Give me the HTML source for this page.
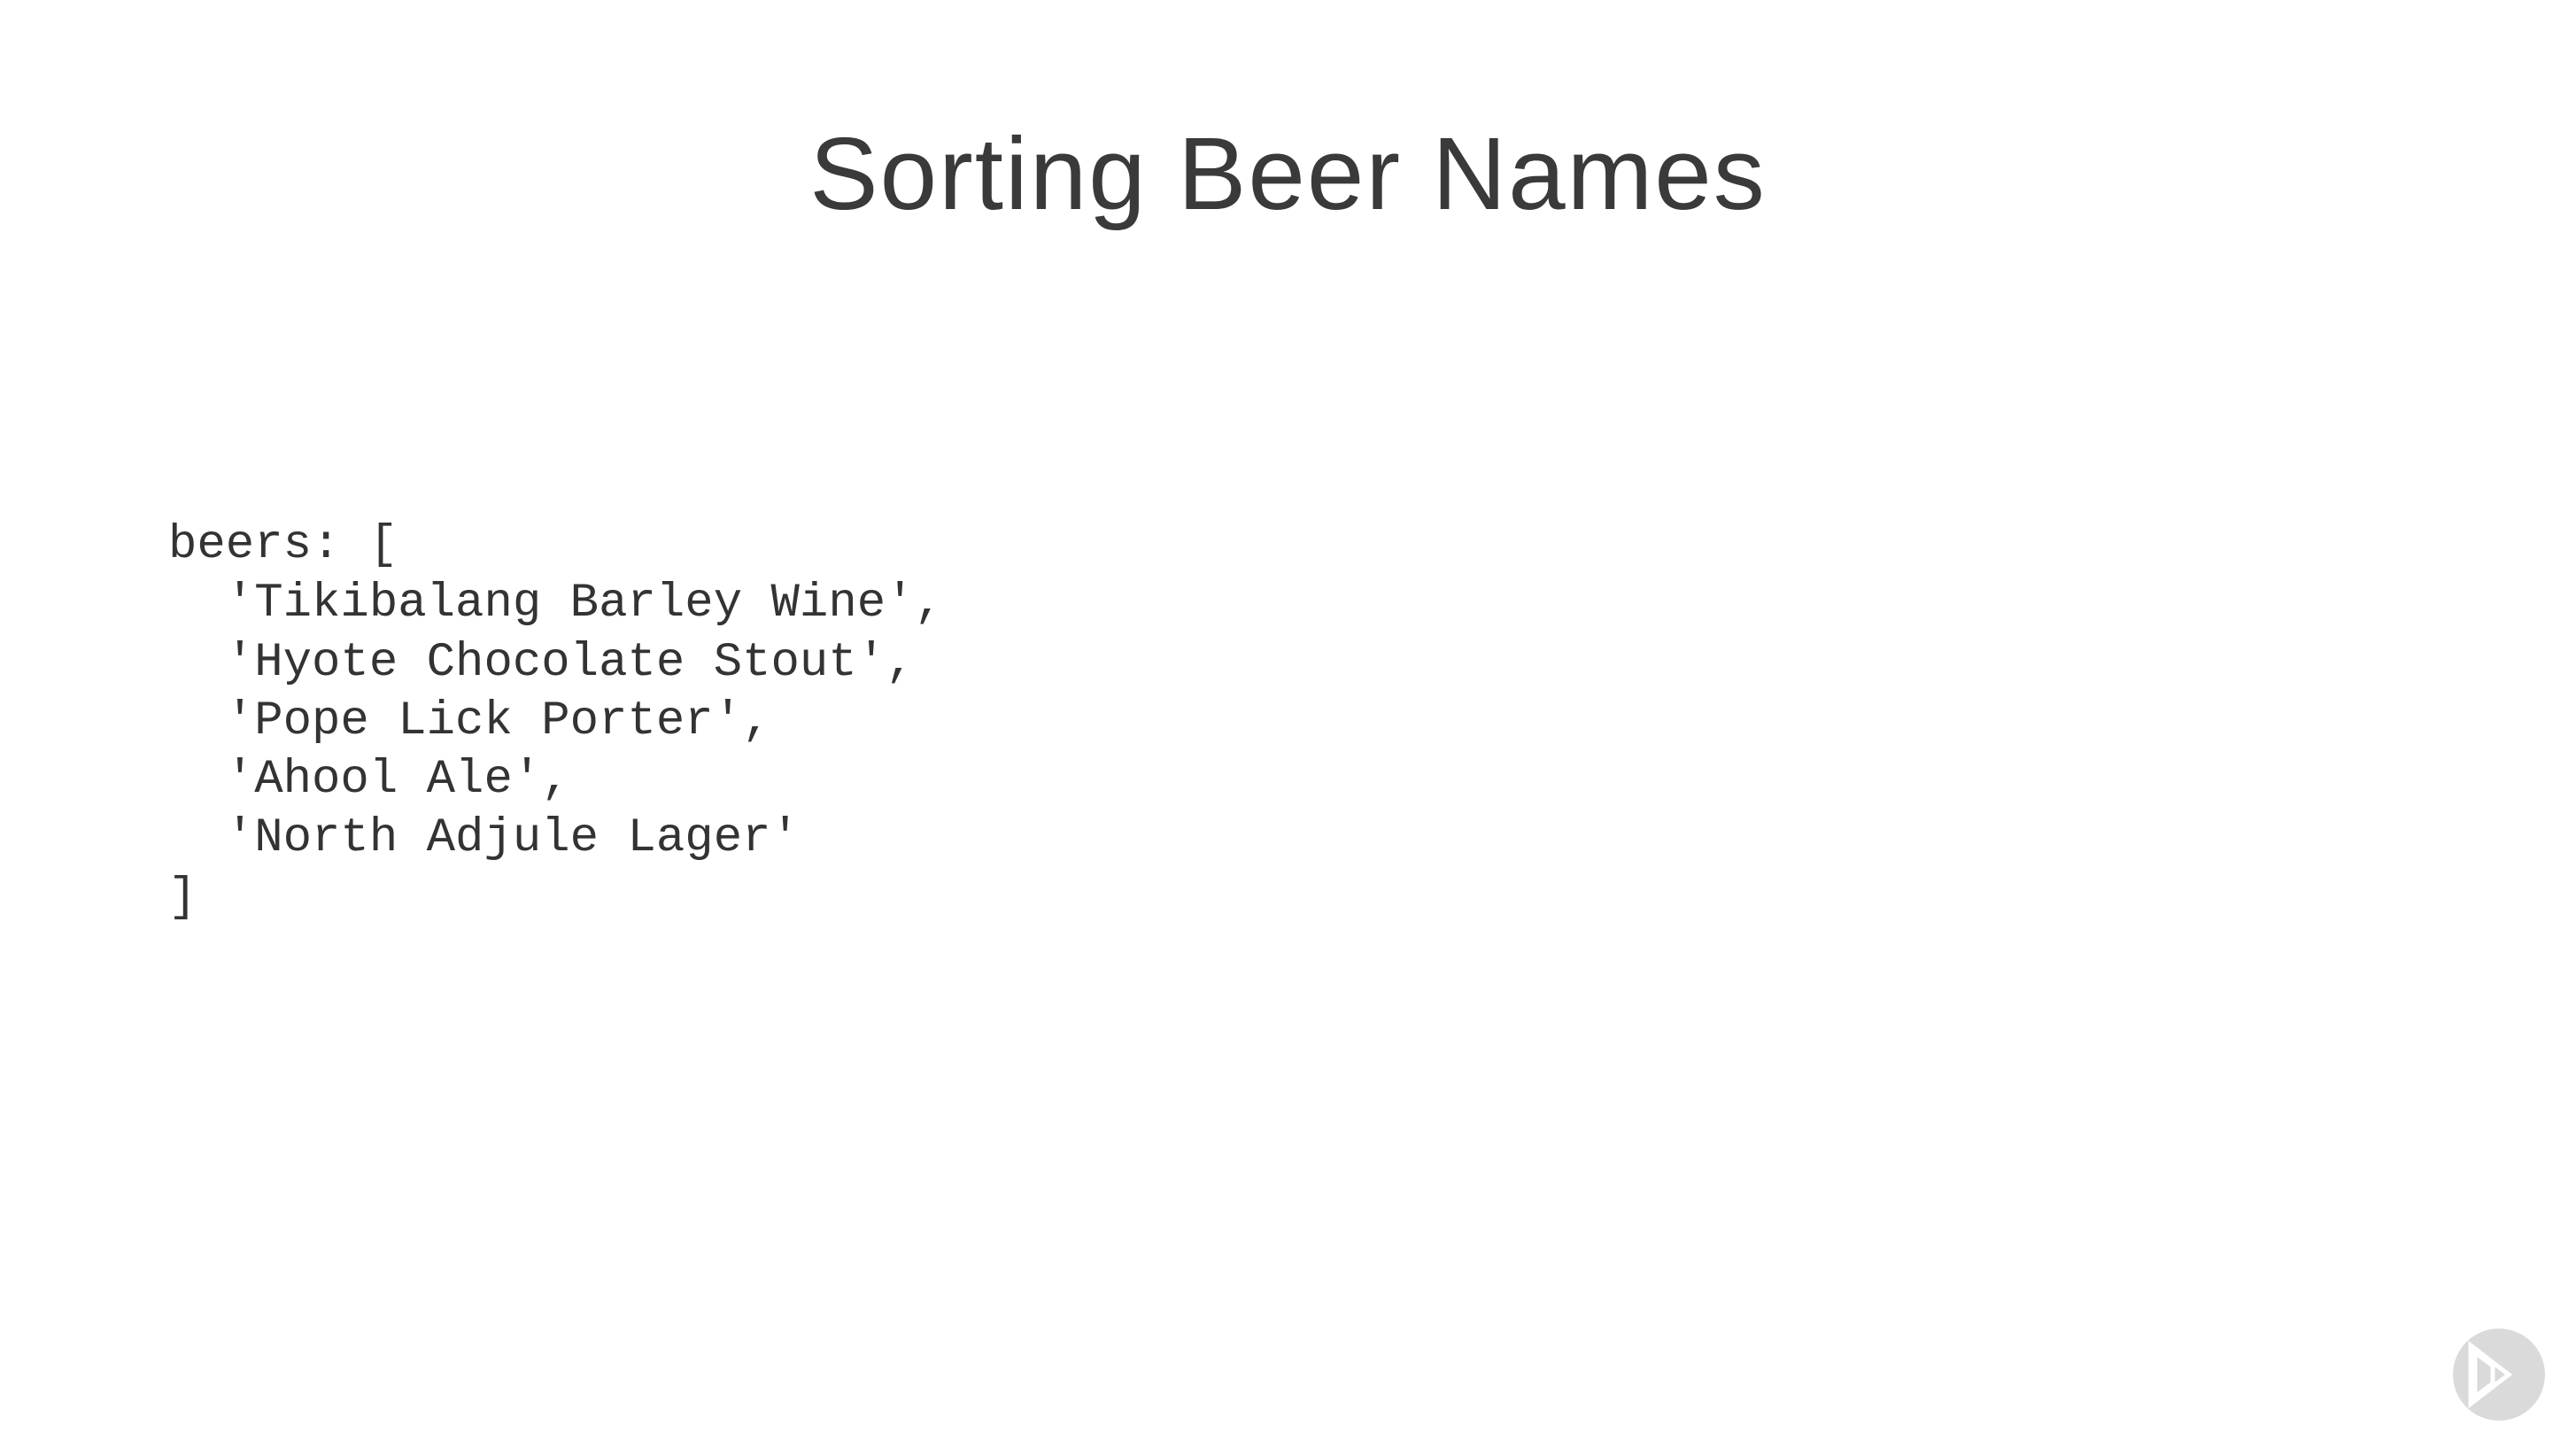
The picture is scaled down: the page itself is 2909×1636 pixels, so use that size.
<!DOCTYPE html>
<html><head><meta charset="utf-8"><style>
html,body{margin:0;padding:0;background:#fff;}
body{width:2909px;height:1636px;position:relative;overflow:hidden;}
.title{position:absolute;left:0;width:2909px;top:126px;text-align:center;font-family:"Liberation Sans",sans-serif;font-size:116px;line-height:140px;color:#3a3a3a;}
.title span{display:inline-block;letter-spacing:2px;transform:scaleX(1.0);}
pre{position:absolute;left:190px;top:583px;margin:0;font-family:"Liberation Mono",monospace;font-size:54px;line-height:66.3px;color:#333;}
</style></head><body>
<div class="title"><span>Sorting Beer Names</span></div>
<pre>beers: [
  'Tikibalang Barley Wine',
  'Hyote Chocolate Stout',
  'Pope Lick Porter',
  'Ahool Ale',
  'North Adjule Lager'
]</pre>
<svg style="position:absolute;left:0;top:0" width="2909" height="1636">
<circle cx="2822" cy="1552" r="52" fill="#dadada"/>
<polygon points="2795,1527 2795,1577 2815,1562 2815,1542" fill="none" stroke="#fff" stroke-width="5"/>
<polygon points="2790,1519 2790,1585 2833,1552" fill="none" stroke="#fff" stroke-width="5"/>
</svg>
</body></html>
